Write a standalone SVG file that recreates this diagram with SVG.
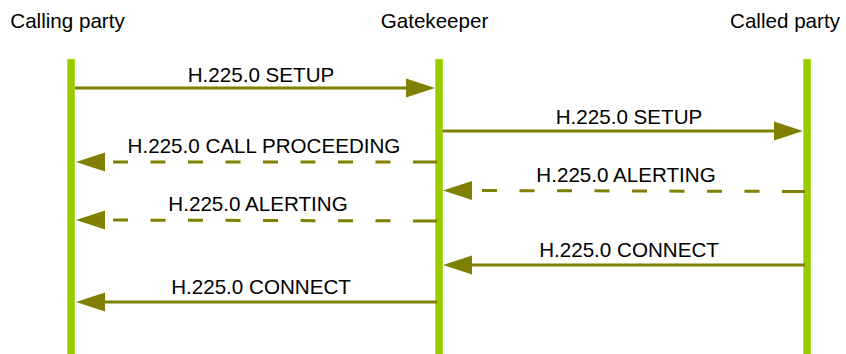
<svg xmlns="http://www.w3.org/2000/svg" width="846" height="354" viewBox="0 0 846 354">
<style>
  .life { fill: #99CC00; }
  .lbl { font-family: "Liberation Sans", Arial, sans-serif; font-size: 20.6px; fill: #000; text-anchor: middle; }
  .msg { stroke: #808000; stroke-width: 3; fill: none; marker-end: url(#head); }
  .dl { stroke-dasharray: 24 22.5 15 22.5 15 22.5 15 22.5 15 22.5 15 22.5 15 22.5 15 22.5 15 100; }
  .dr { stroke-dasharray: 23 22.5 15 22.5 15 22.5 15 22.5 15 22.5 15 22.5 15 22.5 15 22.5 15 100; }
</style>
<defs>
  <marker id="head" markerUnits="userSpaceOnUse" markerWidth="30" markerHeight="20" refX="0" refY="9.5" orient="auto" overflow="visible">
    <path d="M0,0 L29,9.5 L0,19 Z" fill="#808000"/>
  </marker>
</defs>
<rect width="846" height="354" fill="#fff"/>
<g id="calling-party">
  <rect class="life" x="67.3" y="59" width="7.5" height="295"/>
  <text class="lbl" x="67.5" y="28">Calling party</text>
</g>
<g id="gatekeeper">
  <rect class="life" x="435.3" y="59" width="7.5" height="295"/>
  <text class="lbl" x="434.5" y="28">Gatekeeper</text>
</g>
<g id="called-party">
  <rect class="life" x="803.3" y="59" width="7.5" height="295"/>
  <text class="lbl" x="785" y="28">Called party</text>
</g>
<g id="connectors">
  <path class="msg" d="M75,88 L406,88"/>
  <text class="lbl" x="261" y="82">H.225.0 SETUP</text>
  <path class="msg" d="M442.5,131 L774,131"/>
  <text class="lbl" x="629" y="124">H.225.0 SETUP</text>
  <path class="msg dl" d="M437,162 L105,162"/>
  <text class="lbl" x="264" y="153">H.225.0 CALL PROCEEDING</text>
  <path class="msg dr" d="M805,191.5 L472,190.5"/>
  <text class="lbl" x="626" y="182">H.225.0 ALERTING</text>
  <path class="msg dl" d="M437,221 L105,220"/>
  <text class="lbl" x="258" y="211">H.225.0 ALERTING</text>
  <path class="msg" d="M805,265 L472,265"/>
  <text class="lbl" x="629" y="257">H.225.0 CONNECT</text>
  <path class="msg" d="M437,302 L105,302"/>
  <text class="lbl" x="261" y="294">H.225.0 CONNECT</text>
</g>
</svg>
